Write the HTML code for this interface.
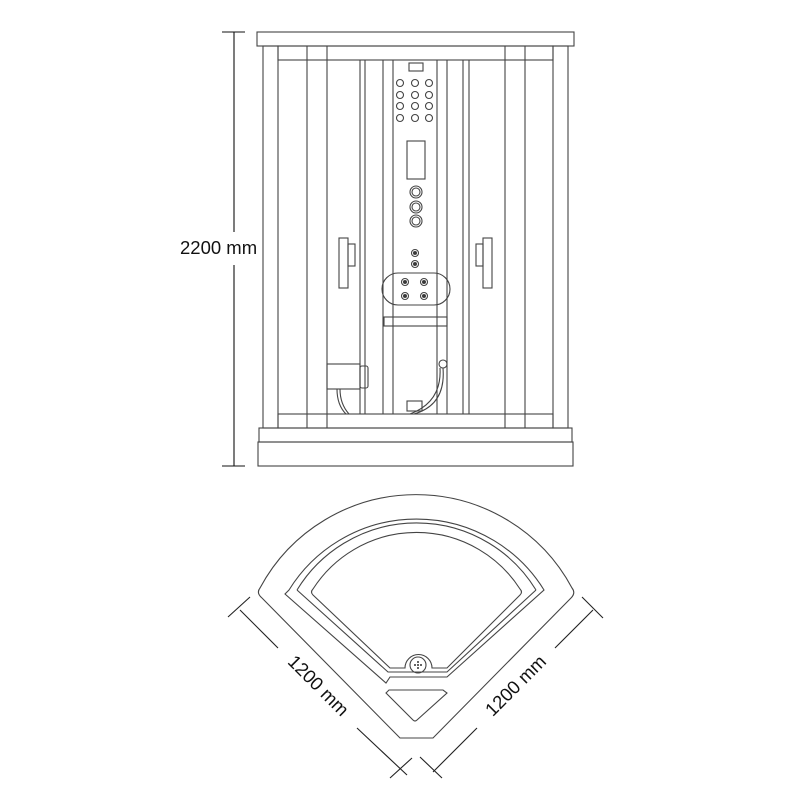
<!DOCTYPE html>
<html><head><meta charset="utf-8"><style>
html,body{margin:0;padding:0;background:#fff;width:800px;height:800px;overflow:hidden}
svg{display:block}
text{font-family:"Liberation Sans",sans-serif;fill:#111}
</style></head><body>
<svg width="800" height="800" viewBox="0 0 800 800" xmlns="http://www.w3.org/2000/svg">
<g fill="none" stroke="#444" stroke-width="1.1">
<line x1="234" y1="32" x2="234" y2="232" stroke="#111"/>
<line x1="234" y1="265" x2="234" y2="466" stroke="#111"/>
<line x1="222" y1="32" x2="245" y2="32" stroke="#111"/>
<line x1="222" y1="466" x2="245" y2="466" stroke="#111"/>
<rect x="257" y="32" width="317" height="14"/>
<rect x="263" y="46" width="15" height="382"/>
<rect x="553" y="46" width="15" height="382"/>
<rect x="278" y="46" width="275" height="14"/>
<rect x="278" y="414" width="275" height="14"/>
<line x1="307" y1="46" x2="307" y2="428"/>
<line x1="327" y1="46" x2="327" y2="428"/>
<line x1="505" y1="46" x2="505" y2="428"/>
<line x1="525" y1="46" x2="525" y2="428"/>
<line x1="360" y1="60" x2="360" y2="414"/>
<line x1="365" y1="60" x2="365" y2="414"/>
<line x1="383" y1="60" x2="383" y2="414"/>
<line x1="393" y1="60" x2="393" y2="414"/>
<line x1="437" y1="60" x2="437" y2="414"/>
<line x1="447" y1="60" x2="447" y2="414"/>
<line x1="463" y1="60" x2="463" y2="414"/>
<line x1="469" y1="60" x2="469" y2="414"/>
<rect x="259" y="428" width="313" height="14"/>
<rect x="258" y="442" width="315" height="24"/>
<rect x="409" y="63" width="14" height="8"/>
<g>
<circle cx="400" cy="83" r="3.5"/><circle cx="415" cy="83" r="3.5"/><circle cx="429" cy="83" r="3.5"/>
<circle cx="400" cy="95" r="3.5"/><circle cx="415" cy="95" r="3.5"/><circle cx="429" cy="95" r="3.5"/>
<circle cx="400" cy="106" r="3.5"/><circle cx="415" cy="106" r="3.5"/><circle cx="429" cy="106" r="3.5"/>
<circle cx="400" cy="118" r="3.5"/><circle cx="415" cy="118" r="3.5"/><circle cx="429" cy="118" r="3.5"/>
</g>
<rect x="407" y="141" width="18" height="38"/>
<circle cx="416" cy="192" r="6"/><circle cx="416" cy="192" r="4"/>
<circle cx="416" cy="207" r="6"/><circle cx="416" cy="207" r="4"/>
<circle cx="416" cy="221" r="6"/><circle cx="416" cy="221" r="4"/>
<circle cx="415" cy="253" r="3.5"/><circle cx="415" cy="253" r="1.5" fill="#333"/>
<circle cx="415" cy="264" r="3.5"/><circle cx="415" cy="264" r="1.5" fill="#333"/>
<rect x="382" y="273" width="68" height="32" rx="16"/>
<circle cx="405" cy="282" r="3.5"/><circle cx="405" cy="282" r="1.5" fill="#333"/>
<circle cx="424" cy="282" r="3.5"/><circle cx="424" cy="282" r="1.5" fill="#333"/>
<circle cx="405" cy="296" r="3.5"/><circle cx="405" cy="296" r="1.5" fill="#333"/>
<circle cx="424" cy="296" r="3.5"/><circle cx="424" cy="296" r="1.5" fill="#333"/>
<rect x="384" y="317" width="63" height="9"/>
<rect x="339" y="238" width="9" height="50"/>
<rect x="348" y="244" width="7" height="22"/>
<rect x="483" y="238" width="9" height="50"/>
<rect x="476" y="244" width="7" height="22"/>
<rect x="327" y="364" width="33" height="25"/>
<rect x="360" y="366" width="8" height="22" rx="2"/>
<path d="M337 389 Q337 405 346 414"/><path d="M340 389 Q340 404 349 414"/>
<circle cx="443" cy="364" r="4"/>
<path d="M443 368 Q446 405 414 414"/><path d="M440 368 Q442 402 410 414"/>
<rect x="407" y="401" width="15" height="10"/>
<path d="M260 588 A177 177 0 0 1 572 588 Q576 593 571 598 L433 738 L400 738 L262 598 Q256 593 260 588 Z"/>
<path d="M289 590 A150 150 0 0 1 544 590 L447 677 L390 677 L386 683 L285 594 Z"/>
<path d="M297 590 A140 140 0 0 1 536 590"/>
<path d="M297 590 L388 672 L447 672 L536 590"/>
<path d="M313 589 A123 123 0 0 1 520 589 Q523 592 520 595 L447 668 L432 668 A13 13 0 0 0 405 668 L390 668 L313 595 Q310 592 313 589 Z"/>
<circle cx="418" cy="665" r="8"/>
<g fill="#333" stroke="none">
<circle cx="418" cy="662" r="1"/><circle cx="415" cy="665" r="1"/><circle cx="421" cy="665" r="1"/><circle cx="418" cy="668" r="1"/><circle cx="418" cy="665" r="1"/>
</g>
<path d="M389 690 L443 690 L447 693 L417 720 Q415 722 413 720 L386 693 Z"/>
<g stroke="#222">
<line x1="240" y1="610" x2="278" y2="648"/>
<line x1="357" y1="728" x2="407" y2="775"/>
<line x1="228" y1="617" x2="250" y2="597"/>
<line x1="390" y1="778" x2="412" y2="758"/>
<line x1="593" y1="610" x2="555" y2="648"/>
<line x1="477" y1="728" x2="433" y2="772"/>
<line x1="603" y1="618" x2="582" y2="597"/>
<line x1="420" y1="757" x2="442" y2="778"/>
</g>
</g>
<text x="180" y="254" font-size="18.5">2200 mm</text>
<text font-size="18.5" text-anchor="middle" transform="translate(314,690) rotate(45)">1200 mm</text>
<text font-size="18.5" text-anchor="middle" transform="translate(520,690) rotate(-45)">1200 mm</text>
</svg>
</body></html>
